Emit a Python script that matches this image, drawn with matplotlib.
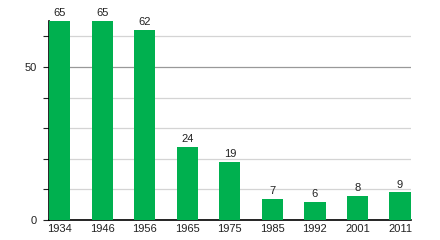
import matplotlib.pyplot as plt
from matplotlib.ticker import MultipleLocator

years = ["1934", "1946", "1956", "1965", "1975", "1985", "1992", "2001", "2011"]
values = [65, 65, 62, 24, 19, 7, 6, 8, 9]

plt.rcParams['font.family'] = ['Liberation Sans', 'DejaVu Sans']

fig = plt.figure(figsize=(4.4, 2.4), dpi=100)
ax = fig.add_axes([49 / 440, 20 / 240, (410.6 - 49) / 440, 199 / 240])

x = range(len(years))
bars = ax.bar(x, values, width=0.5, color="#00b04f", zorder=3)
for xi, v in zip(x, values):
    ax.annotate(str(v), (xi, v), xytext=(0, 2), textcoords="offset points",
                ha="center", va="bottom", fontsize=8, color="#222222")

ax.set_xlim(-0.25, len(years) - 0.75)
ax.set_ylim(0, 65)
ax.set_xticks(list(x))
ax.set_xticklabels(years)
ax.yaxis.set_major_locator(MultipleLocator(50))
ax.yaxis.set_minor_locator(MultipleLocator(10))
ax.grid(axis="y", which="minor", color="#d4d4d4", lw=0.9, zorder=0)
ax.grid(axis="y", which="major", color="#999999", lw=0.9, zorder=0)
ax.tick_params(axis="x", length=0, labelsize=8, pad=3, colors="#222222")
ax.tick_params(axis="y", which="both", length=4, width=0.8, labelsize=8, pad=5,
               colors="#222222")
for side in ("top", "right"):
    ax.spines[side].set_visible(False)
ax.spines["left"].set_linewidth(1.2)
ax.spines["bottom"].set_linewidth(1.2)

fig.savefig("out.png", dpi=100)
